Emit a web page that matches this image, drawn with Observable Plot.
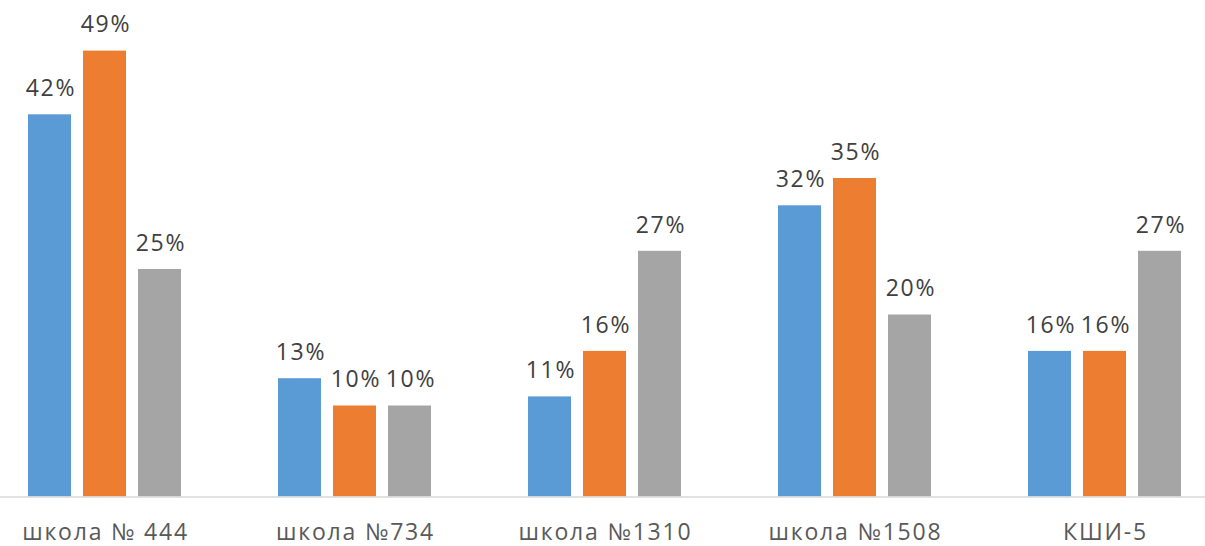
<!DOCTYPE html>
<html>
<head>
<meta charset="utf-8">
<script src="https://cdn.jsdelivr.net/npm/d3@7"></script>
<script src="https://cdn.jsdelivr.net/npm/@observablehq/plot@0.6"></script>
<style>
  html, body { margin: 0; padding: 0; background: #fff; }
  svg text { letter-spacing: 1.8px; }
</style>
</head>
<body>
<div id="chart"></div>
<script>
const groups = ["школа № 444", "школа №734", "школа №1310", "школа №1508", "КШИ-5"];
const seriesNames = ["Ряд 1", "Ряд 2", "Ряд 3"];
const series1 = [42, 13, 11, 32, 16];
const series2 = [49, 10, 16, 35, 16];
const series3 = [25, 10, 27, 20, 27];
const colors = ["#5B9BD5", "#ED7D31", "#A5A5A5"];

const allSeries = [series1, series2, series3];
const data = groups.flatMap((g, i) =>
  allSeries.map((s, j) => ({group: g, series: seriesNames[j], value: s[i]}))
);

const chart = Plot.plot({
  width: 1205,
  height: 546,
  marginTop: 41.5,
  marginBottom: 49.5,
  marginLeft: 0,
  marginRight: 0,
  style: {fontFamily: "'Open Sans', sans-serif", background: "white"},
  fx: {domain: groups, range: [-21.5, 1228.5], padding: 0, label: null},
  x: {domain: seriesNames, range: [48.5, 201.5], paddingInner: 12 / 55, paddingOuter: 0, axis: null},
  y: {domain: [0, 50], axis: null},
  color: {domain: seriesNames, range: colors},
  marks: [
    Plot.barY(data, {fx: "group", x: "series", y: "value", fill: "series"}),
    Plot.ruleY([0], {stroke: "#D9D9D9", strokeWidth: 1.5}),
    Plot.text(data, {fx: "group", x: "series", y: "value", text: d => d.value + "%", dy: -26, dx: 1, fill: "#404040", fontSize: 23}),
    Plot.axisFx({anchor: "bottom", tickSize: 0, tickPadding: 27, dx: 1, fontSize: 23, fill: "#595959", label: null})
  ]
});
document.getElementById("chart").appendChild(chart);
</script>
</body>
</html>
